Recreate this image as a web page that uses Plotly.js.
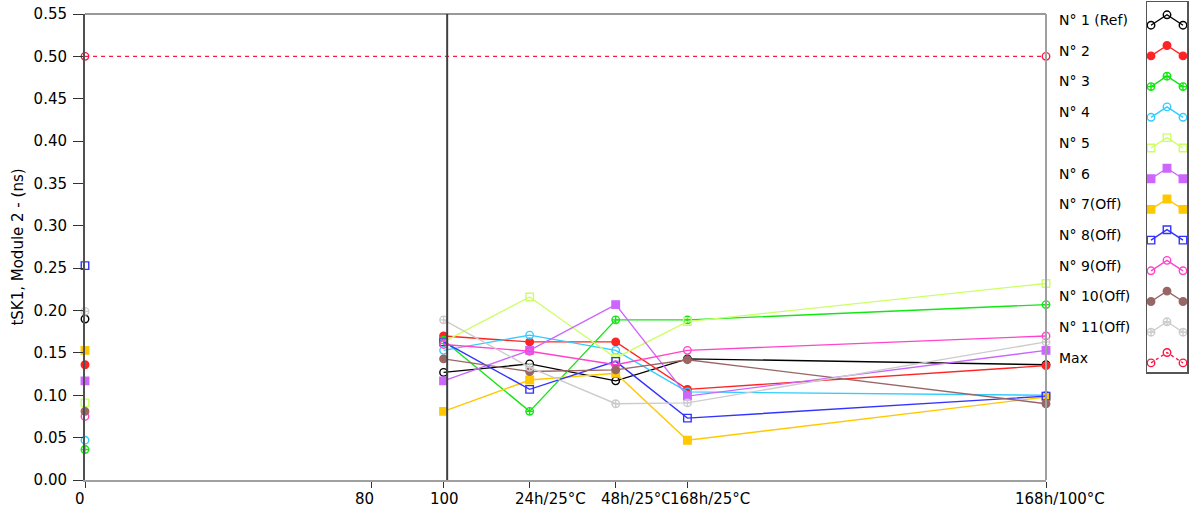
<!DOCTYPE html>
<html>
<head>
<meta charset="utf-8">
<script src="https://cdn.plot.ly/plotly-3.0.1.min.js"></script>
<style>html,body{margin:0;padding:0;background:#fff;}#chart{width:1189px;height:515px;}</style>
</head>
<body>
<div id="chart"></div>
<script>
// ---- data ----
const xPositions = [0, 100, 124, 148, 168, 268];
const tickValues = [0, 80, 100, 124, 148, 168, 268];
const tickLabels = ['0', '80', '100', '24h/25°C', '48h/25°C', '168h/25°C', '168h/100°C'];
const cursorX = 101;

const seriesNames = ['N° 1 (Ref)', 'N° 2', 'N° 3', 'N° 4', 'N° 5', 'N° 6', 'N° 7(Off)', 'N° 8(Off)', 'N° 9(Off)', 'N° 10(Off)', 'N° 11(Off)'];
const n1  = [0.190, 0.127, 0.137, 0.117, 0.143, 0.136];
const n2  = [0.136, 0.170, 0.163, 0.163, 0.107, 0.135];
const n3  = [0.036, 0.165, 0.081, 0.189, 0.189, 0.207];
const n4  = [0.047, 0.153, 0.171, 0.153, 0.104, 0.100];
const n5  = [0.091, 0.163, 0.216, 0.144, 0.187, 0.232];
const n6  = [0.117, 0.117, 0.153, 0.207, 0.099, 0.153];
const n7  = [0.153, 0.081, 0.118, 0.126, 0.047, 0.098];
const n8  = [0.253, 0.163, 0.107, 0.140, 0.073, 0.099];
const n9  = [0.075, 0.160, 0.152, 0.136, 0.153, 0.170];
const n10 = [0.081, 0.143, 0.128, 0.130, 0.142, 0.090];
const n11 = [0.199, 0.189, 0.133, 0.090, 0.091, 0.163];
const seriesValues = [n1, n2, n3, n4, n5, n6, n7, n8, n9, n10, n11];

const maxName = 'Max';
const maxX = [0, 268];
const maxY = [0.5, 0.5];

// ---- styles ----
const colors  = ['#000000', '#ff2424', '#14e614', '#33ccff', '#ccff66', '#cc66ff', '#ffc800', '#3333ff', '#ff44cc', '#996666', '#cccccc'];
const symbols = ['circle-open', 'circle', 'circle-cross-open', 'circle-open', 'square-open', 'square', 'square', 'square-open', 'circle-open', 'circle', 'circle-cross-open'];
const maxColor = '#ff1744';
// horizontal pixel offsets of the x tick labels (as placed in the original)
const labelShift = [-5, -7, 1, 21, 21, 23, 14];
const labelBg = [null, null, null, null, null, '#ffffff', null];

const traces = [];
seriesValues.forEach((vals, i) => {
  const xs = [xPositions[0], null].concat(xPositions.slice(1));
  const ys = [vals[0], null].concat(vals.slice(1));
  traces.push({
    type: 'scatter', mode: 'lines+markers', name: seriesNames[i],
    x: xs, y: ys, xaxis: 'x', yaxis: 'y',
    line: {color: colors[i], width: 1.4},
    marker: {color: colors[i], symbol: symbols[i], size: 7.5, line: {color: colors[i], width: 1.4}},
    cliponaxis: false, connectgaps: false, showlegend: false
  });
});
traces.push({
  type: 'scatter', mode: 'lines+markers', name: maxName,
  x: maxX, y: maxY, xaxis: 'x', yaxis: 'y',
  line: {color: maxColor, width: 1.2, dash: '4px,4px'},
  marker: {color: maxColor, symbol: 'circle-open', size: 7.5, line: {color: maxColor, width: 1.4}},
  cliponaxis: false, showlegend: false
});

// ---- custom legend (text left, zigzag icon in a box on the right) ----
const legendNames = seriesNames.concat([maxName]);
const legendColors = colors.concat([maxColor]);
const legendSymbols = symbols.concat(['circle-open']);
const annotations = [];
legendNames.forEach((nm, i) => {
  traces.push({
    type: 'scatter', mode: 'lines+markers', xaxis: 'x2', yaxis: 'y2',
    x: [4, 20, 36], y: [i + 0.17, i - 0.17, i + 0.17],
    line: {color: legendColors[i], width: 1.4, dash: i === legendNames.length - 1 ? '3px,3px' : 'solid'},
    marker: {color: legendColors[i], symbol: legendSymbols[i], size: 7.5, line: {color: legendColors[i], width: 1.4}},
    cliponaxis: false, showlegend: false, hoverinfo: 'skip'
  });
  annotations.push({
    xref: 'paper', yref: 'y2', x: (1057 - 85) / 1102, y: i, xanchor: 'left', yanchor: 'middle',
    text: nm, showarrow: false, font: {family: 'DejaVu Sans', size: 14, color: '#000'}
  });
});
// x tick labels
tickValues.forEach((v, i) => {
  const a = {
    xref: 'x', yref: 'paper', x: v, y: (480 - 499) / 478, xanchor: 'center', yanchor: 'middle',
    xshift: labelShift[i], text: tickLabels[i], showarrow: false, borderpad: 0,
    font: {family: 'DejaVu Sans', size: 15, color: '#000'}
  };
  if (labelBg[i]) a.bgcolor = labelBg[i];
  annotations.push(a);
});

const layout = {
  width: 1189, height: 515,
  margin: {l: 85, r: 2, t: 2, b: 35},
  paper_bgcolor: '#ffffff', plot_bgcolor: '#ffffff',
  font: {family: 'DejaVu Sans', size: 15, color: '#000'},
  showlegend: false,
  xaxis: {
    domain: [0, 961 / 1102], range: [0, 268],
    tickmode: 'array', tickvals: tickValues, ticktext: tickLabels, showticklabels: false,
    ticks: 'outside', ticklen: 6, tickcolor: '#333', tickwidth: 1,
    showgrid: false, zeroline: false,
    showline: true, linecolor: '#a0a0a0', linewidth: 2
  },
  yaxis: {
    domain: [0, 466 / 478], range: [0, 0.55],
    tickmode: 'linear', tick0: 0, dtick: 0.05, tickformat: '.2f',
    ticks: 'outside', ticklen: 10, tickcolor: '#333', tickwidth: 1, ticklabelstandoff: 3,
    showgrid: false, zeroline: false,
    showline: true, linecolor: '#505050', linewidth: 2,
    tickfont: {family: 'DejaVu Sans', size: 15, color: '#000'},
    title: {text: 'tSK1, Module 2 - (ns)', font: {family: 'DejaVu Sans', size: 15, color: '#000'}, standoff: 6}
  },
  xaxis2: {
    domain: [(1147 - 85) / 1102, 1], range: [0, 40], anchor: 'y2',
    showgrid: false, zeroline: false, showticklabels: false, ticks: '',
    showline: true, mirror: true, linecolor: '#555', linewidth: 1.5, fixedrange: true
  },
  yaxis2: {
    domain: [(480 - 372) / 478, 1], range: [(372 - 20) / 30.7, (2 - 20) / 30.7], anchor: 'x2',
    showgrid: false, zeroline: false, showticklabels: false, ticks: '',
    showline: true, mirror: true, linecolor: '#555', linewidth: 1.5, fixedrange: true
  },
  shapes: [
    {type: 'line', xref: 'x', yref: 'y domain', x0: cursorX, x1: cursorX, y0: 0, y1: 1, line: {color: '#404040', width: 2}},
    {type: 'line', xref: 'x domain', yref: 'y domain', x0: 0, x1: 1, y0: 1, y1: 1, line: {color: '#333', width: 1}},
    {type: 'line', xref: 'x domain', yref: 'y domain', x0: 1, x1: 1, y0: 0, y1: 1, line: {color: '#a0a0a0', width: 2}}
  ],
  annotations: annotations
};

Plotly.newPlot('chart', traces, layout, {displayModeBar: false, staticPlot: true});
</script>
</body>
</html>
